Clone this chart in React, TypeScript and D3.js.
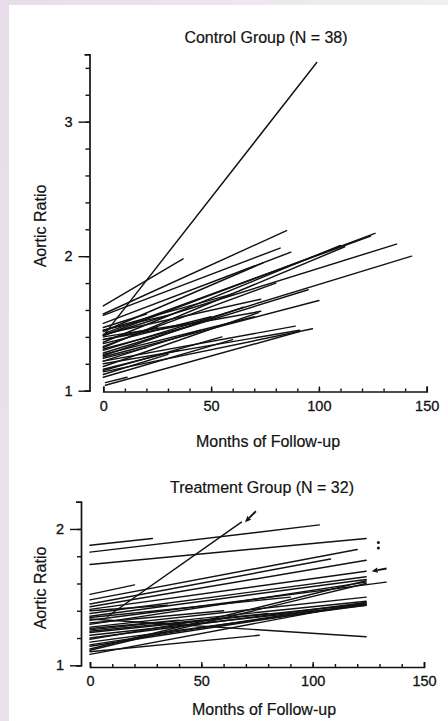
import React, { useEffect, useRef } from 'react';
import * as d3 from 'd3';

// each segment: [first month, first ratio, last month, last ratio]
const controlLines: number[][] = [
  [1, 1.43, 99, 3.44],
  [0, 1.63, 37, 1.98],
  [0, 1.57, 85, 2.19],
  [0, 1.56, 82, 2.06],
  [0, 1.50, 87, 2.03],
  [0, 1.44, 74, 1.95],
  [0, 1.41, 126, 2.17],
  [1, 1.43, 124, 2.15],
  [0, 1.36, 110, 2.08],
  [0, 1.32, 112, 2.07],
  [0, 1.41, 136, 2.09],
  [0, 1.30, 143, 2.00],
  [0, 1.28, 95, 1.75],
  [0, 1.25, 100, 1.67],
  [0, 1.42, 73, 1.68],
  [0, 1.38, 73, 1.59],
  [0, 1.27, 70, 1.55],
  [0, 1.40, 48, 1.52],
  [0, 1.22, 89, 1.48],
  [0, 1.14, 97, 1.46],
  [0, 1.20, 91, 1.45],
  [1, 1.06, 11, 1.10],
  [1, 1.04, 91, 1.44],
  [0, 1.45, 60, 1.72],
  [0, 1.35, 50, 1.55],
  [0, 1.31, 40, 1.48],
  [0, 1.26, 65, 1.62],
  [0, 1.22, 45, 1.45],
  [0, 1.18, 72, 1.58],
  [0, 1.15, 55, 1.40],
  [0, 1.45, 30, 1.56],
  [0, 1.33, 80, 1.80],
  [0, 1.12, 30, 1.27],
  [0, 1.24, 20, 1.32],
  [0, 1.47, 20, 1.57],
  [0, 1.38, 25, 1.47],
  [0, 1.10, 60, 1.38],
  [0, 1.16, 35, 1.30],
];

const treatmentLines: number[][] = [
  [8, 1.36, 68, 2.05],
  [0, 1.88, 28, 1.93],
  [0, 1.83, 103, 2.03],
  [0, 1.74, 124, 1.93],
  [0, 1.52, 20, 1.59],
  [0, 1.48, 120, 1.85],
  [0, 1.45, 108, 1.78],
  [0, 1.43, 124, 1.77],
  [0, 1.41, 124, 1.69],
  [0, 1.38, 124, 1.65],
  [0, 1.36, 124, 1.63],
  [0, 1.33, 133, 1.61],
  [0, 1.30, 124, 1.61],
  [0, 1.28, 124, 1.50],
  [0, 1.26, 124, 1.47],
  [0, 1.24, 124, 1.45],
  [0, 1.22, 124, 1.44],
  [0, 1.20, 124, 1.46],
  [0, 1.17, 124, 1.44],
  [0, 1.14, 124, 1.45],
  [0, 1.11, 124, 1.60],
  [0, 1.08, 124, 1.46],
  [0, 1.34, 124, 1.21],
  [0, 1.10, 76, 1.22],
  [0, 1.31, 60, 1.40],
  [0, 1.27, 40, 1.33],
  [0, 1.19, 50, 1.33],
  [0, 1.35, 90, 1.50],
  [0, 1.40, 35, 1.44],
  [0, 1.15, 100, 1.40],
  [0, 1.25, 80, 1.38],
  [0, 1.12, 124, 1.62],
];

const monthTicks = [0, 50, 100, 150];
const controlRatioTicks = [1, 2, 3];
const treatmentRatioTicks = [1, 2];

// annotation arrows in the treatment panel: [tail month, tail ratio, tip month, tip ratio]
const treatmentArrows: number[][] = [
  [74.5, 2.13, 69.6, 2.05],
  [133.2, 1.71, 126.5, 1.69],
];
const treatmentDots: number[][] = [
  [129.5, 1.9],
  [129.5, 1.86],
];

const FONT = '"Liberation Sans", Arial, Helvetica, sans-serif';
const INK = '#121212';

function drawPanel(svg, o) {
  const g = svg.append('g');
  const x = d3.scaleLinear().domain([0, 150]).range(o.xRange);
  const y = d3.scaleLinear().domain(o.yDomain).range(o.yRange);

  // y axis: major ticks pointing left, minor every 0.2
  const yAxis = g.append('g')
    .attr('transform', `translate(${o.axisX},0)`)
    .call(d3.axisLeft(y).tickValues(o.ratioTicks).tickSizeInner(11).tickSizeOuter(5)
      .tickPadding(6).tickFormat(d3.format('d')));
  g.append('g')
    .attr('transform', `translate(${o.axisX},0)`)
    .call(d3.axisLeft(y).tickValues(d3.range(o.yDomain[0] + 0.2, o.yDomain[1] - 0.05, 0.2))
      .tickSize(4).tickFormat(() => ''))
    .call((s) => s.select('.domain').remove());

  // x axis: ticks point up
  const xAxis = g.append('g')
    .attr('transform', `translate(0,${o.axisY})`)
    .call(d3.axisBottom(x).tickValues(monthTicks).tickSizeInner(-5).tickSizeOuter(-5)
      .tickPadding(9).tickFormat(d3.format('d')));
  g.append('g')
    .attr('transform', `translate(0,${o.axisY})`)
    .call(d3.axisBottom(x).tickValues(d3.range(10, 150, 10)).tickSize(-3).tickFormat(() => ''))
    .call((s) => s.select('.domain').remove());

  g.selectAll('.domain').attr('stroke', INK).attr('stroke-width', 1.7);
  g.selectAll('.tick line').attr('stroke', INK).attr('stroke-width', 1.4);
  [yAxis, xAxis].forEach((a) => a.selectAll('text')
    .attr('font-family', FONT).attr('font-size', 14.5).attr('fill', INK)
    .attr('stroke', INK).attr('stroke-width', 0.3));

  g.append('g')
    .selectAll('line')
    .data(o.lines)
    .join('line')
    .attr('x1', (d) => x(d[0]))
    .attr('y1', (d) => y(d[1]))
    .attr('x2', (d) => x(d[2]))
    .attr('y2', (d) => y(d[3]))
    .attr('stroke', INK)
    .attr('stroke-width', 1.45)
    .attr('stroke-linecap', 'round');

  const label = (txt, tx, ty, rot = 0) => g.append('text')
    .attr('transform', `translate(${tx},${ty}) rotate(${rot})`)
    .attr('text-anchor', 'middle')
    .attr('font-family', FONT)
    .attr('font-size', 16)
    .attr('fill', INK)
    .attr('stroke', INK)
    .attr('stroke-width', 0.2)
    .text(txt);

  label(o.title, o.titleX, o.titleY);
  label('Months of Follow-up', o.xLabelX, o.xLabelY);
  label('Aortic Ratio', o.yLabelX, o.yLabelY, -90);

  (o.arrows || []).forEach((a) => {
    const x1 = x(a[0]), y1 = y(a[1]), x2 = x(a[2]), y2 = y(a[3]);
    const ang = Math.atan2(y2 - y1, x2 - x1);
    const len = 6, half = 2.6;
    const bx = x2 - len * Math.cos(ang), by = y2 - len * Math.sin(ang);
    g.append('line')
      .attr('x1', x1).attr('y1', y1).attr('x2', bx).attr('y2', by)
      .attr('stroke', INK).attr('stroke-width', 1.9);
    g.append('path')
      .attr('d', `M${x2},${y2}L${bx - half * Math.sin(ang)},${by + half * Math.cos(ang)}L${bx + half * Math.sin(ang)},${by - half * Math.cos(ang)}Z`)
      .attr('fill', INK);
  });
  g.selectAll('circle.dot')
    .data(o.dots || [])
    .join('circle')
    .attr('cx', (d) => x(d[0]))
    .attr('cy', (d) => y(d[1]))
    .attr('r', 1.5)
    .attr('fill', INK);
}

export default function App() {
  const svgRef = useRef(null);

  useEffect(() => {
    const svg = d3.select(svgRef.current);
    svg.selectAll('*').remove();

    const defs = svg.append('defs');
    const grad = defs.append('linearGradient').attr('id', 'bg')
      .attr('x1', 0).attr('y1', 0).attr('x2', 1).attr('y2', 0.3);
    grad.append('stop').attr('offset', 0).attr('stop-color', '#e7dde8');
    grad.append('stop').attr('offset', 1).attr('stop-color', '#f3eff4');
    svg.append('rect').attr('width', 448).attr('height', 721).attr('fill', 'url(#bg)');
    svg.append('rect').attr('x', 9).attr('y', 5).attr('width', 439).attr('height', 716).attr('fill', '#fff');

    drawPanel(svg, {
      lines: controlLines,
      ratioTicks: controlRatioTicks,
      xRange: [103.3, 426.7],
      yDomain: [1, 3.5],
      yRange: [390.7, 54.4],
      axisX: 89.5,
      axisY: 391.5,
      title: 'Control Group (N = 38)',
      titleX: 266,
      titleY: 42.5,
      xLabelX: 268,
      xLabelY: 447,
      yLabelX: 46,
      yLabelY: 226,
    });

    drawPanel(svg, {
      lines: treatmentLines,
      ratioTicks: treatmentRatioTicks,
      arrows: treatmentArrows,
      dots: treatmentDots,
      xRange: [90, 424],
      yDomain: [1, 2.2],
      yRange: [665.3, 501.7],
      axisX: 81,
      axisY: 667,
      title: 'Treatment Group (N = 32)',
      titleX: 262,
      titleY: 493,
      xLabelX: 264,
      xLabelY: 715,
      yLabelX: 46,
      yLabelY: 588,
    });
  }, []);

  return (
    <svg ref={svgRef} width={448} height={721}
      style={{ position: 'absolute', left: 0, top: 0, display: 'block' }} />
  );
}
